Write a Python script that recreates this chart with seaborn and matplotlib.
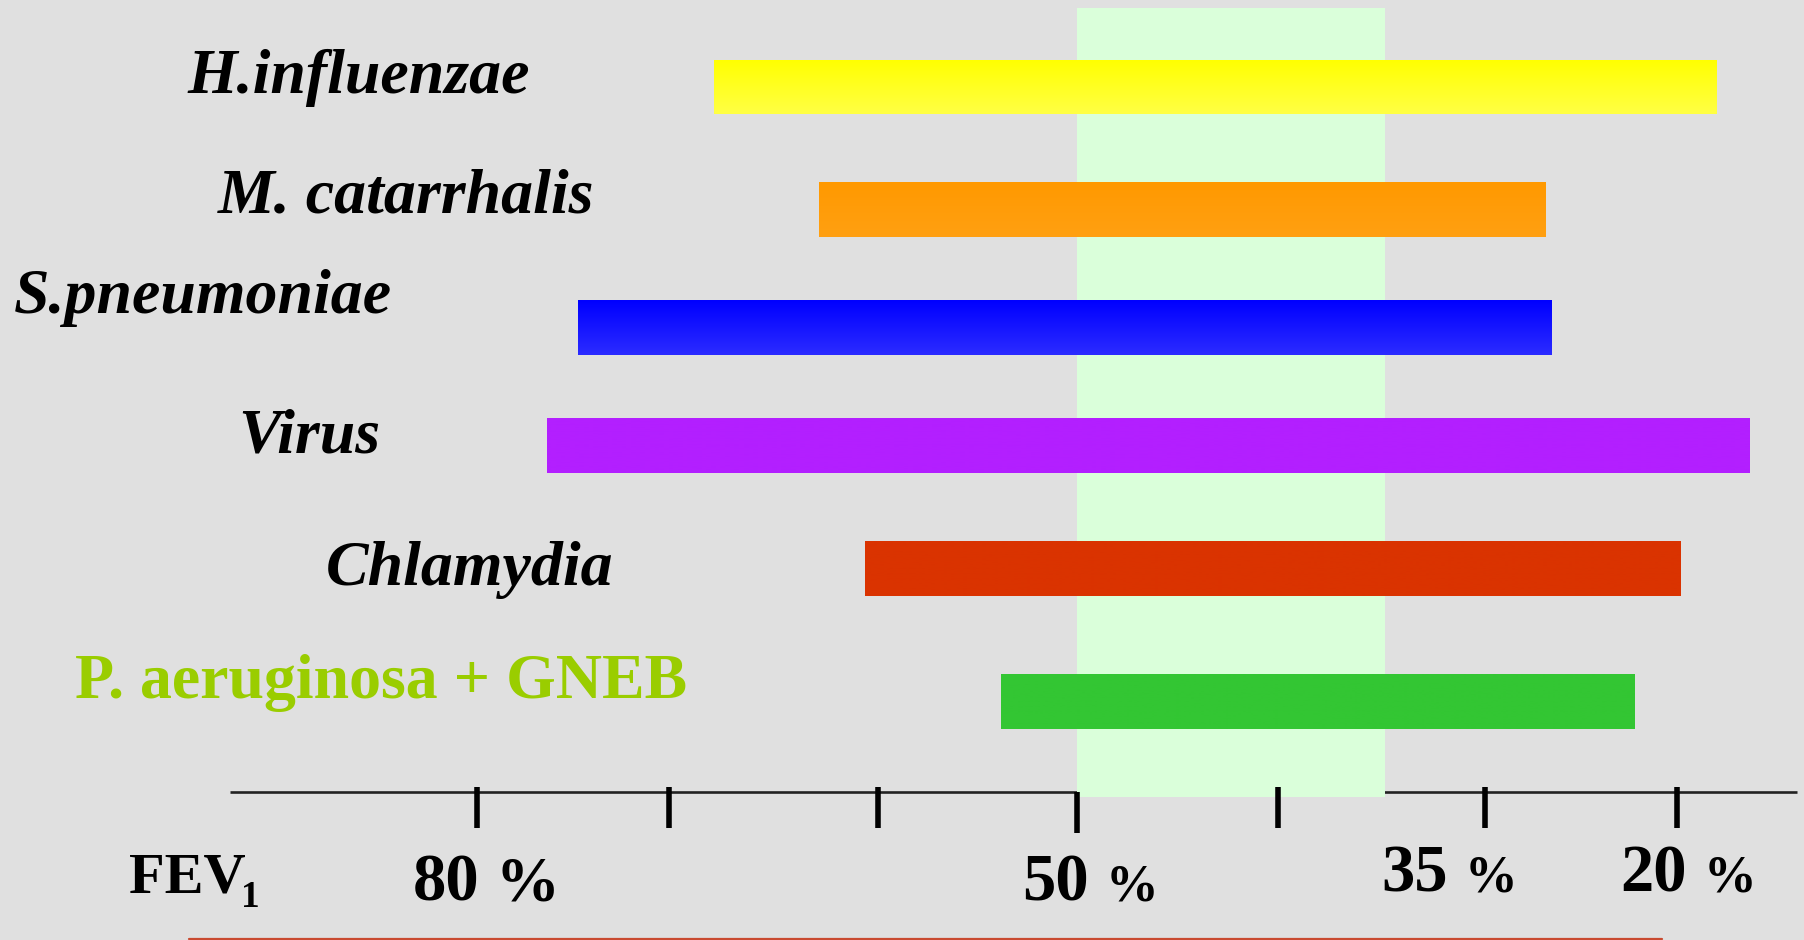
import numpy as np
import matplotlib.pyplot as plt
import seaborn as sns
from matplotlib.colors import to_rgb

# Pathogens, top to bottom
pathogens = ["H.influenzae", "M. catarrhalis", "S.pneumoniae", "Virus", "Chlamydia",
             "P. aeruginosa + GNEB"]
# Bar extents along the FEV1 scale, in tick steps (0 = 80 %, 6 = 20 %)
bar_start = [1.185, 1.71, 0.505, 0.35, 1.94, 2.62]
bar_end = [6.2, 5.345, 5.375, 6.365, 6.02, 5.79]

# FEV1 scale
tick_pos = [0, 0.96, 2.005, 3.0, 4.003, 5.04, 6.0]
tick_labels = ["80", "", "", "50", "", "35", "20"]

# Shaded band between 50 % and 35 %
band_start, band_end = 3.0, 4.54

# Layout (row units, tick-step units)
row_pos = [0, 0.993, 1.956, 2.921, 3.918, 5.0]
label_x = [-1.45, -1.295, -2.315, -1.195, -0.755, -2.01]
label_base = [0.049, 1.025, 1.839, 2.970, 4.052, 4.971]
bar_h = 0.4475

# Styles
bar_top = ["#FFFF00", "#FF9900", "#0000FF", "#B31FFF", "#DA3300", "#33C633"]
bar_bottom = ["#FFFF44", "#FFA012", "#2B2BFF", "#B31FFF", "#DA3300", "#33C633"]
label_colors = ["black"] * 5 + ["#9ACD00"]
label_styles = ["italic"] * 5 + ["normal"]
bg = "#E0E0E0"

sns.set_theme(style="white")
plt.rcParams["font.family"] = ["Liberation Serif", "DejaVu Serif"]
plt.rcParams["text.color"] = "black"

fig = plt.figure(figsize=(18.04, 9.4), dpi=100, facecolor=bg)
ax = fig.add_axes([0, 0, 1, 1])
ax.set_facecolor(bg)

# Floating bars: width = end - start, shifted by start
widths = np.array(bar_end) - np.array(bar_start)
sns.barplot(x=widths, y=row_pos, orient="y", native_scale=True, left=bar_start,
            width=bar_h / np.diff(row_pos).min(), color=bar_top[0], linewidth=0,
            errorbar=None, ax=ax, zorder=2)
bars = list(ax.patches)

# vertical gradient inside each bar
t = np.linspace(0, 1, 64)[:, None]
for patch, c0, c1 in zip(bars, bar_top, bar_bottom):
    x0, y0 = patch.get_x(), patch.get_y()
    w, h = patch.get_width(), patch.get_height()
    rgb = (1 - t) * np.array(to_rgb(c0)) + t * np.array(to_rgb(c1))
    img = ax.imshow(rgb[:, None, :], extent=(x0, x0 + w, y0 + h, y0), origin="upper",
                    aspect="auto", zorder=2.1, interpolation="bilinear")
    img.set_clip_path(patch)

# Axis line, band, ticks
axis_y = 5.736
ax.plot([-1.235, 6.6], [axis_y, axis_y], color="#222222", lw=1.9, zorder=0.5,
        solid_capstyle="butt")
ax.axvspan(band_start, band_end, ymin=1 - 797 / 940, ymax=1 - 8 / 940,
           color="#DAFFDA", lw=0, zorder=1)
for pos, lab in zip(tick_pos, tick_labels):
    lo, hi = (axis_y, 6.07) if lab == "50" else (5.696, 6.029)
    ax.vlines(pos, lo, hi, color="black", lw=4, zorder=3)

# Tick labels: number + percent sign
tick_text = [(0.0525, "80", 6.623, 46), (3.1, "50", 6.623, 38),
             (4.8975, "35", 6.55, 38), (6.0925, "20", 6.55, 38)]
for x, num, base, pct_size in tick_text:
    ax.annotate(num, (x, base), xytext=(-6, 0), textcoords="offset points",
                ha="right", va="baseline", fontsize=48, fontweight="bold", color="black")
    ax.annotate("%", (x, base), xytext=(6, 0), textcoords="offset points",
                ha="left", va="baseline", fontsize=pct_size, fontweight="bold", color="black")

ax.text(-1.74, 6.558, "FEV", ha="left", va="baseline", fontsize=42, fontweight="bold",
        color="black")
ax.text(-1.18, 6.672, "1", ha="left", va="baseline", fontsize=27, fontweight="bold",
        color="black")

# Pathogen labels
for name, x, y, c, st in zip(pathogens, label_x, label_base, label_colors, label_styles):
    ax.text(x, y, name, ha="left", va="baseline", fontsize=46, fontweight="bold",
            fontstyle=st, color=c)

# thin red rule at the bottom
ax.plot([-1.44, 5.925], [6.936, 6.936], color="#C94A30", lw=1.6)

ax.set_xlim(-2.385, 6.635)
ax.set_ylim(6.9406, -0.7079)
ax.axis("off")

fig.savefig("out.png", dpi=100, facecolor=bg)
